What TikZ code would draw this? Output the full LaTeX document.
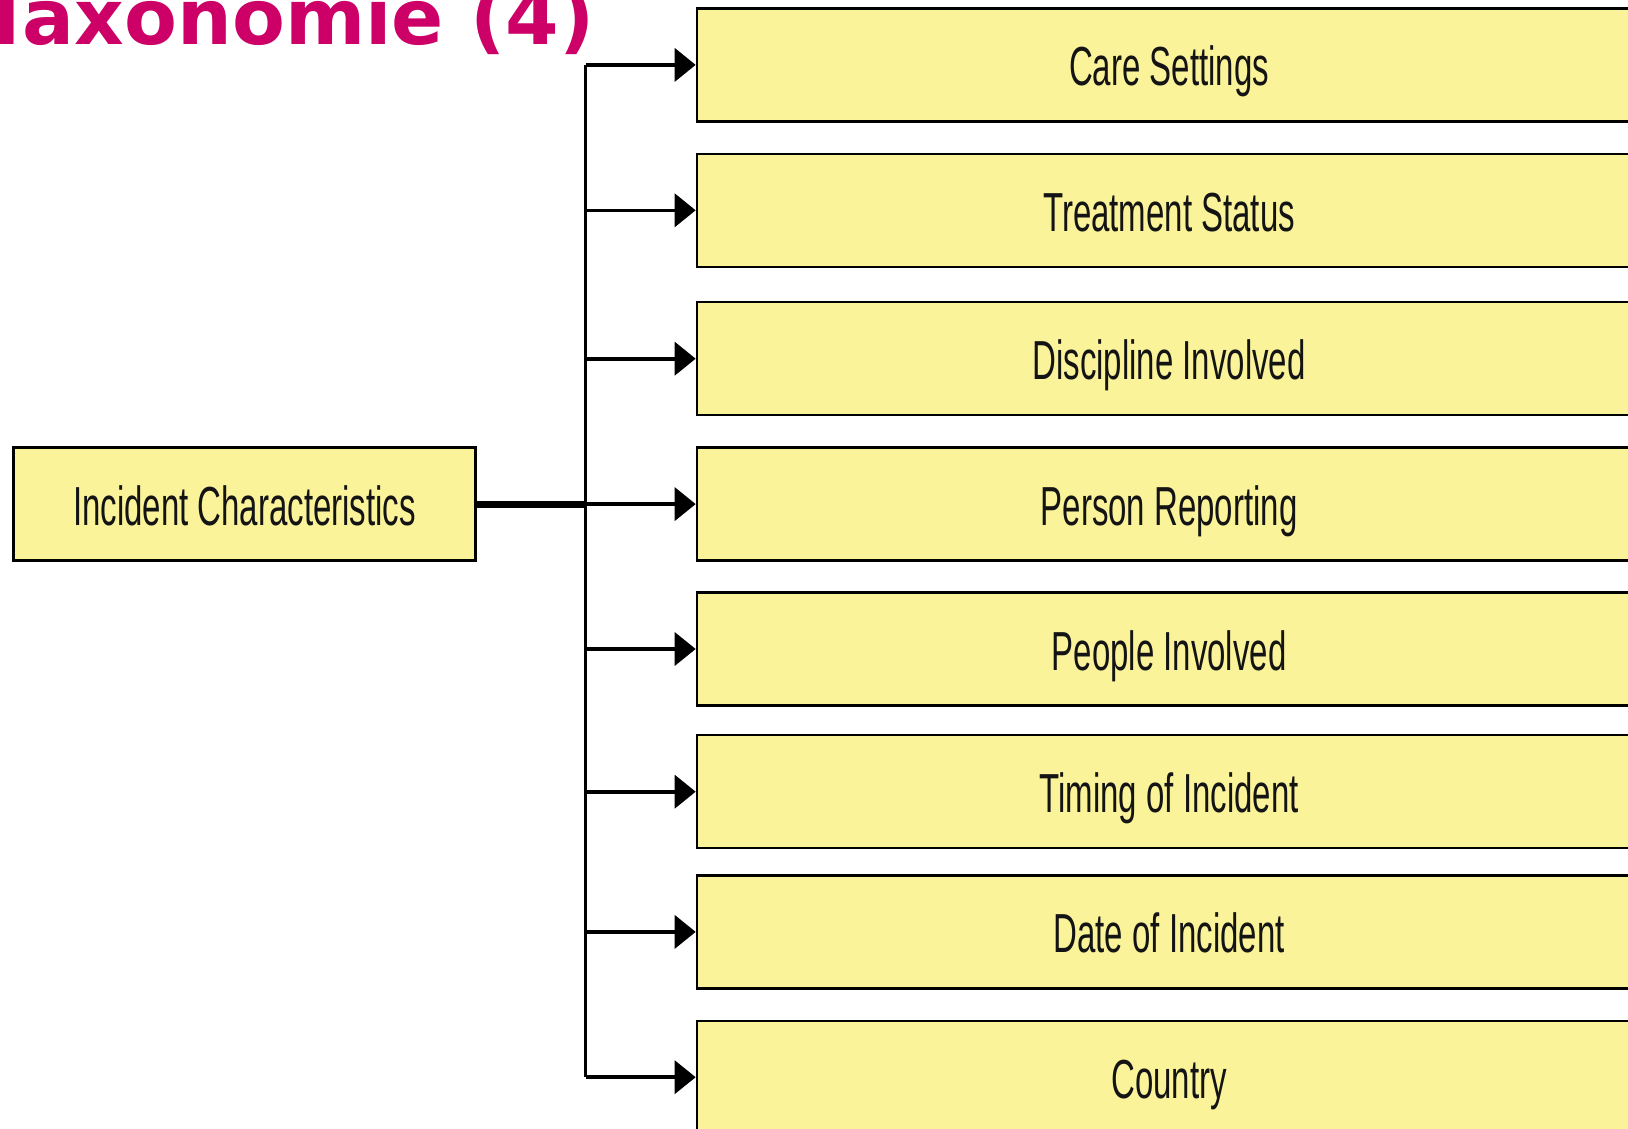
\documentclass[tikz,border=0pt]{standalone}
\usepackage{fontspec}
\usetikzlibrary{arrows.meta}
\newfontfamily\narrowfont[FakeStretch=0.6]{Liberation Sans}
\newfontfamily\titlefont{DejaVu Sans Bold}
\definecolor{boxyellow}{HTML}{FAF39A}
\definecolor{titlemag}{HTML}{CC0066}
\definecolor{textdark}{HTML}{141414}
\tikzset{
  catbox/.style={draw=black, line width=2.4pt, fill=boxyellow, inner sep=0pt,
    minimum height=113pt, text height=42pt, text depth=0pt,
    text=textdark, font=\narrowfont\fontsize{55}{60}\selectfont},
  rightbox/.style={catbox, minimum width=944.3pt, anchor=west},
  branch/.style={line width=3.6pt, -{Triangle[length=21pt,width=33pt]}},
  trunkline/.style={line width=3pt},
  feed/.style={line width=7pt},
}
\begin{document}
\begin{tikzpicture}[x=1pt,y=-1pt]
\useasboundingbox (0,0) rectangle (1628,1129);
\clip (0,0) rectangle (1628,1129);
\fill[white] (0,0) rectangle (1628,1129);
% title
\node[anchor=base west, inner sep=0pt, text=titlemag, font=\titlefont\fontsize{77}{84}\selectfont] (title) at (-20,45) {Taxonomie (4)};
% left box
\node[catbox, minimum width=462pt] (ic) at (244.5,504.1) {Incident Characteristics};
% right boxes
\node[rightbox] (b1) at (695.7,64.9) {Care Settings};
\node[rightbox] (b2) at (695.7,210.3) {Treatment Status};
\node[rightbox] (b3) at (695.7,358.7) {Discipline Involved};
\node[rightbox] (b4) at (695.7,504.1) {Person Reporting};
\node[rightbox] (b5) at (695.7,649.0) {People Involved};
\node[rightbox] (b6) at (695.7,791.7) {Timing of Incident};
\node[rightbox] (b7) at (695.7,931.9) {Date of Incident};
\node[rightbox] (b8) at (695.7,1077.2) {Country};
% trunk
\coordinate (tr) at (585.6,0);
\draw[trunkline] (tr |- b1.west) -- (tr |- b8.west);
\draw[feed] (ic.east) -- (tr |- ic.east);
\foreach \b in {b1,b2,b3,b4,b5,b6,b7,b8}{
  \draw[branch] (tr |- \b.west) -- (\b.west);
}
\end{tikzpicture}
\end{document}
